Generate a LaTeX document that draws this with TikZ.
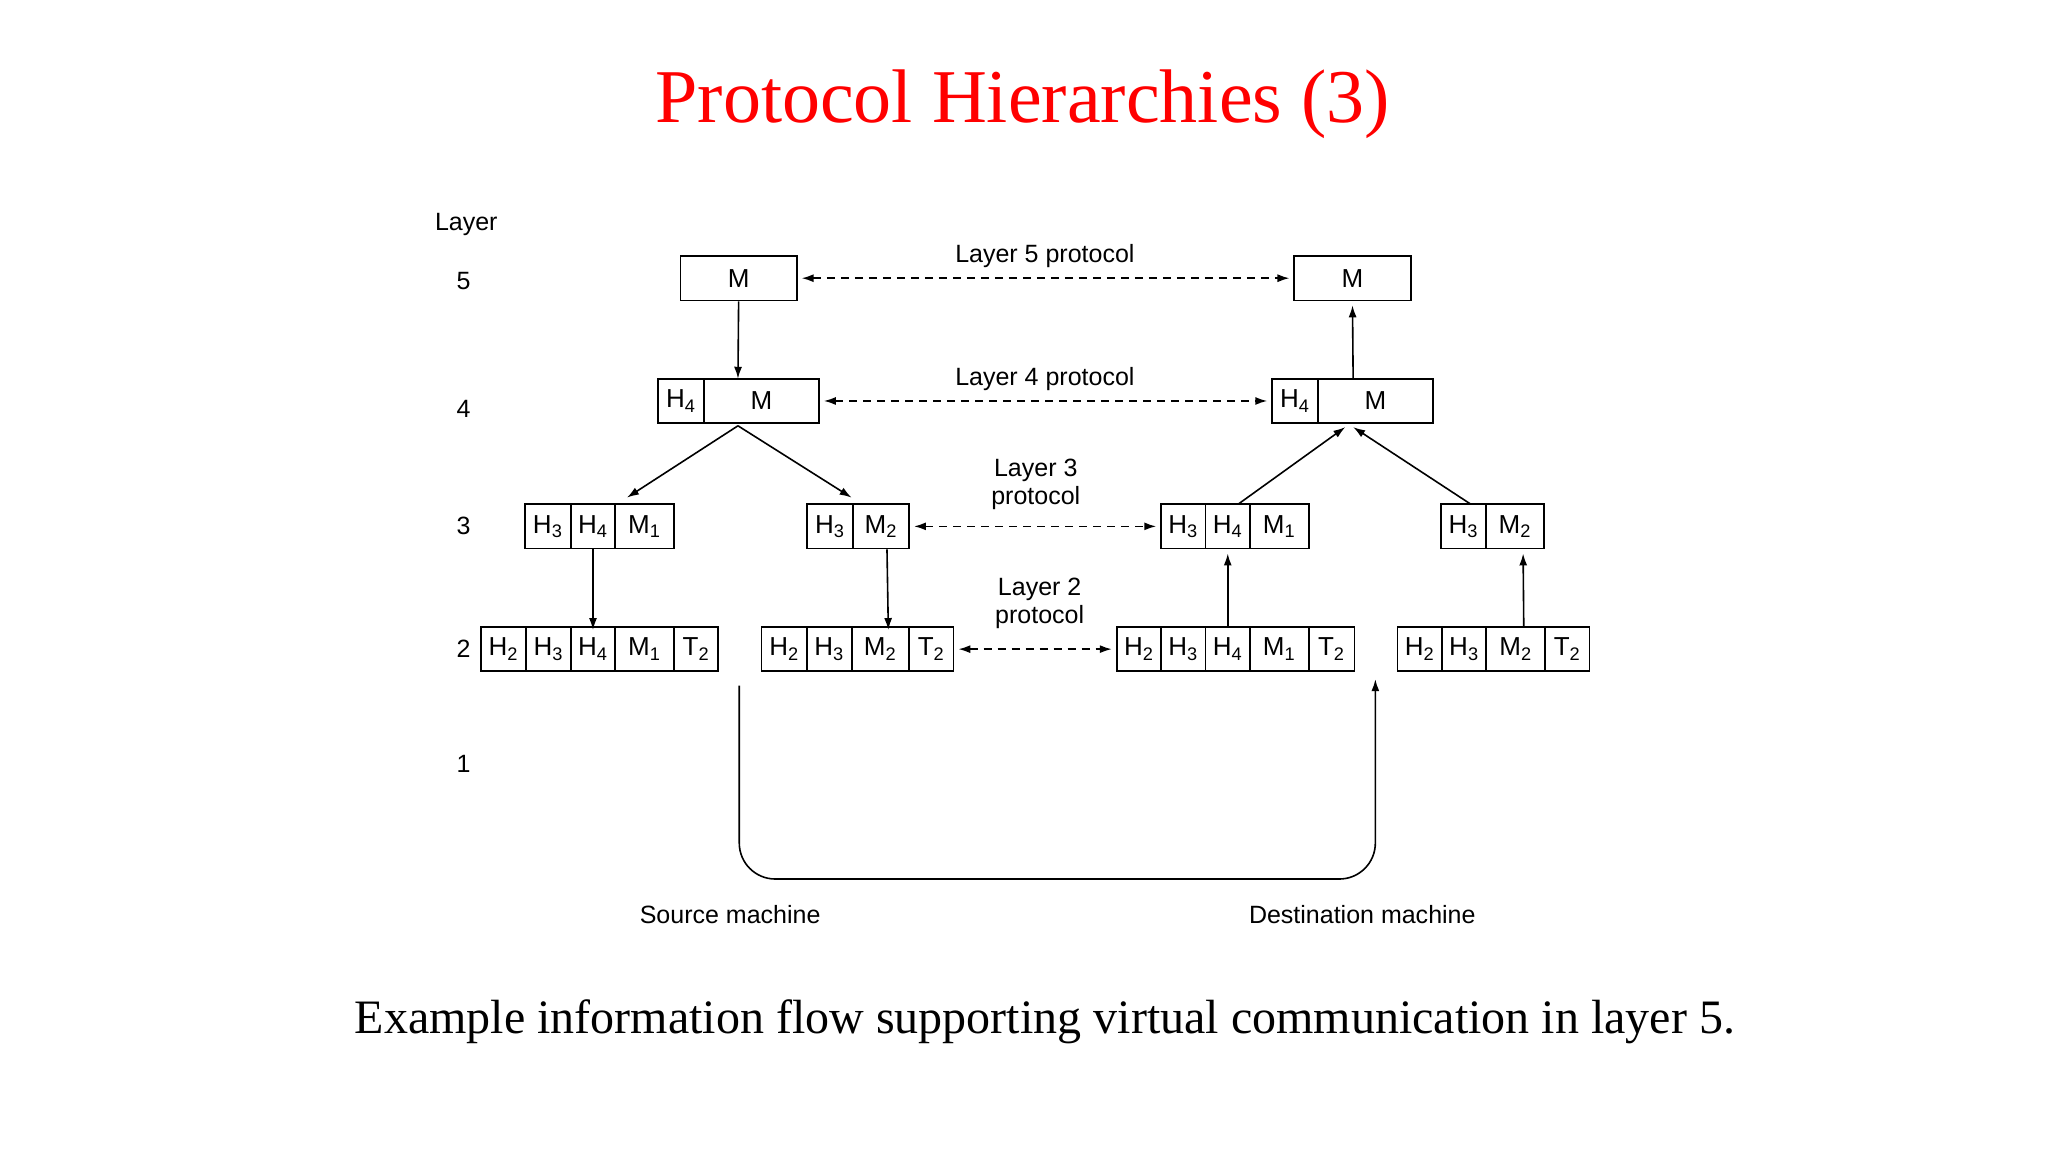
\documentclass[tikz,border=0pt]{standalone}
\usepackage{fontspec}
\setmainfont{Liberation Serif}
\newfontfamily\hsans{Liberation Sans}
\usetikzlibrary{arrows.meta}
\newcommand{\cel}[6]{\node[cell,minimum width={(#3-#2)*0.653pt}] (#1) at ({(#2+#3)/2},#4) {#5#6};}
\newcommand{\sbs}[1]{\textsubscript{#1}}
\begin{document}
\begin{tikzpicture}[x=0.653pt,y=-0.653pt,
  cell/.style={draw,line width=0.9pt,inner sep=0pt,minimum height=22.2pt,font=\hsans\fontsize{13}{15}\selectfont},
  lab/.style={font=\hsans\fontsize{12.5}{15}\selectfont,align=center},
  arr/.style={line width=0.8pt,-{Latex[length=6pt,width=4pt]}},
  darr/.style={line width=0.8pt,dashed,dash pattern=on 4pt off 3pt,{Latex[length=6pt,width=4pt]}-{Latex[length=6pt,width=4pt]}}]
\useasboundingbox (0,0) rectangle (1568,882);
\node[text=red,font=\fontsize{38}{44}\selectfont] (title) at (783,80) {Protocol Hierarchies (3)};
\node[font=\fontsize{24}{28}\selectfont] (cap) at (800,782) {Example information flow supporting virtual communication in layer 5.};
% layer labels
\node[lab] (lay) at (357,172) {Layer};
\node[lab] (l5) at (355,215) {5};
\node[lab] (l4) at (355,313) {4};
\node[lab] (l3) at (355,403) {3};
\node[lab] (l2) at (355,497) {2};
\node[lab] (l1) at (355,585) {1};
% layer 5
\cel{a5}{521}{610}{213}{M}{}
\cel{b5}{991}{1080}{213}{M}{}
% layer 4
\cel{a4h}{504}{539}{307}{H}{\sbs4}
\cel{a4m}{539}{627}{307}{M}{}
\cel{b4h}{974}{1009}{307}{H}{\sbs4}
\cel{b4m}{1009}{1097}{307}{M}{}
% layer 3
\cel{a3h3}{402}{437}{403}{H}{\sbs3}
\cel{a3h4}{437}{471}{403}{H}{\sbs4}
\cel{a3m}{471}{516}{403}{M}{\sbs1}
\cel{c3h3}{618}{653}{403}{H}{\sbs3}
\cel{c3m}{653}{696}{403}{M}{\sbs2}
\cel{b3h3}{889}{923}{403}{H}{\sbs3}
\cel{b3h4}{923}{957}{403}{H}{\sbs4}
\cel{b3m}{957}{1002}{403}{M}{\sbs1}
\cel{d3h3}{1103}{1138}{403}{H}{\sbs3}
\cel{d3m}{1138}{1182}{403}{M}{\sbs2}
% layer 2
\cel{a2h2}{368}{403}{497}{H}{\sbs2}
\cel{a2h3}{403}{437}{497}{H}{\sbs3}
\cel{a2h4}{437}{471}{497}{H}{\sbs4}
\cel{a2m}{471}{516}{497}{M}{\sbs1}
\cel{a2t}{516}{550}{497}{T}{\sbs2}
\cel{c2h2}{583}{618}{497}{H}{\sbs2}
\cel{c2h3}{618}{652}{497}{H}{\sbs3}
\cel{c2m}{652}{696}{497}{M}{\sbs2}
\cel{c2t}{696}{730}{497}{T}{\sbs2}
\cel{b2h2}{855}{889}{497}{H}{\sbs2}
\cel{b2h3}{889}{923}{497}{H}{\sbs3}
\cel{b2h4}{923}{957}{497}{H}{\sbs4}
\cel{b2m}{957}{1002}{497}{M}{\sbs1}
\cel{b2t}{1002}{1037}{497}{T}{\sbs2}
\cel{d2h2}{1070}{1104}{497}{H}{\sbs2}
\cel{d2h3}{1104}{1138}{497}{H}{\sbs3}
\cel{d2m}{1138}{1183}{497}{M}{\sbs2}
\cel{d2t}{1183}{1217}{497}{T}{\sbs2}
% protocol labels
\node[lab] (p5) at (800,196) {Layer 5 protocol};
\node[lab] (p4) at (800,290) {Layer 4 protocol};
\node[lab,inner sep=0pt] (p3) at (793,371) {Layer 3\\[-1pt]protocol};
\node[lab,inner sep=0pt] (p2) at (796,462) {Layer 2\\[-1pt]protocol};
% dashed
\draw[darr] ([xshift=2]a5.east) -- ([xshift=-2]b5.west);
\draw[darr] ([xshift=2]a4m.east) -- ([xshift=-2]b4h.west);
\draw[darr] ([xshift=2]c3m.east) -- ([xshift=-2]b3h3.west);
\draw[darr] ([xshift=2]c2t.east) -- ([xshift=-2]b2h2.west);
% vertical arrows
\coordinate (a4top) at (565,290);
\draw[arr] (a5.south) -- (a4top);
\coordinate (b4top) at (1036,290);
\draw[arr] (b4top) -- ([yshift=-2]b5.south);
\coordinate (a4bot) at (565,326);
\coordinate (la3) at (480,381);
\coordinate (lc3) at (652,381);
\draw[arr] (a4bot) -- (la3);
\draw[arr] (a4bot) -- (lc3);
\coordinate (rb3) at (948,386);
\coordinate (rd3) at (1126,386);
\coordinate (r4a) at (1030,327);
\coordinate (r4b) at (1036,327);
\draw[arr] (rb3) -- (r4a);
\draw[arr] (rd3) -- (r4b);
\draw[arr] (a3h4.south) -- ([yshift=-2]a2h4.north);
\draw[arr] ([xshift=3]c3m.south) -- ([xshift=4,yshift=-2]c2m.north);
\draw[arr] (b2h4.north) -- ([yshift=-2]b3h4.south);
\draw[arr] ([xshift=4]d2m.north) -- ([xshift=4,yshift=-2]d3m.south);
% physical
\coordinate (s1) at (566,525);
\coordinate (d1) at (1053,520);
\draw[arr,rounded corners=18] (s1) -- (566,673) -- (1053,673) -- (d1);
\node[lab] (src) at (559,700) {Source machine};
\node[lab] (dst) at (1043,700) {Destination machine};
\end{tikzpicture}
\end{document}
